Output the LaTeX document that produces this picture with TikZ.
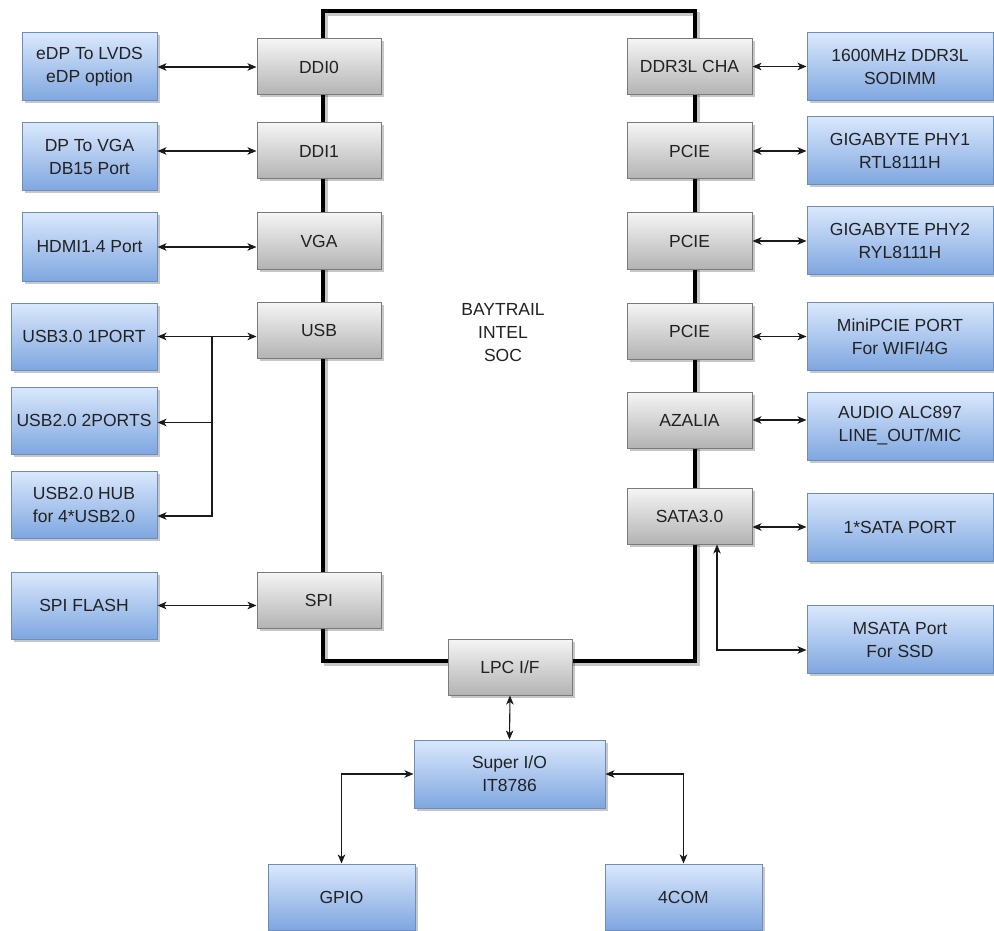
\documentclass[tikz,border=0pt]{standalone}
\usepackage{fontspec}
\setmainfont{Liberation Sans}
\usetikzlibrary{arrows.meta,shadows}
\definecolor{bTop}{HTML}{DAE8FC}
\definecolor{bBot}{HTML}{7EA6E0}
\definecolor{bLine}{HTML}{6C8EBF}
\definecolor{gTop}{HTML}{F5F5F5}
\definecolor{gBot}{HTML}{B3B3B3}
\definecolor{gLine}{HTML}{7A7A7A}
\definecolor{txt}{HTML}{222222}
\definecolor{arrc}{HTML}{1A1A1A}
\tikzset{
  boxbase/.style={draw, line width=1pt, inner sep=0pt, align=center, text=txt,
    font=\fontsize{17.5}{23}\selectfont,
    drop shadow={shadow xshift=2.5pt, shadow yshift=-2.5pt, opacity=0.22, fill=black}},
  graybox/.style={boxbase, draw=gLine, top color=gTop, bottom color=gBot,
    minimum width=124pt, minimum height=56pt},
  bluebox/.style={boxbase, draw=bLine, top color=bTop, bottom color=bBot},
  lbox/.style={bluebox, minimum width=135pt, minimum height=68pt},
  ubox/.style={bluebox, minimum width=146pt, minimum height=67pt},
  rbox/.style={bluebox, minimum width=186pt, minimum height=68pt},
  conn/.style={draw=arrc, line width=1.1pt},
  tipA/.tip={Stealth[length=9pt,width=7.5pt,inset=2.5pt]},
  both/.style={conn, tipA-tipA},
  fwd/.style={conn, -tipA},
}
\begin{document}
\begin{tikzpicture}[x=1pt,y=-1pt]
\useasboundingbox (0,0) rectangle (994,931);
\fill[white] (0,0) rectangle (994,931);
% SoC outline
\draw[line width=4pt, black!22] (326,14) rectangle (698,664);
\draw[line width=4pt, black] (323,11) rectangle (695,661);
\node[align=center, text=txt, font=\fontsize{17.5}{23}\selectfont] (soc) at (503,333) {BAYTRAIL\\INTEL\\SOC};
% gray internal blocks
\node[graybox] (ddi0) at (319,67) {DDI0};
\node[graybox] (ddi1) at (319,151) {DDI1};
\node[graybox] (vga) at (319,241) {VGA};
\node[graybox] (usb) at (319,330.5) {USB};
\node[graybox] (spi) at (319,600) {SPI};
\node[graybox, minimum width=125pt] (ddr) at (689.5,66.5) {DDR3L CHA};
\node[graybox, minimum width=125pt] (pcie1) at (689.5,151) {PCIE};
\node[graybox, minimum width=125pt] (pcie2) at (689.5,241) {PCIE};
\node[graybox, minimum width=125pt] (pcie3) at (689.5,331) {PCIE};
\node[graybox, minimum width=125pt] (azalia) at (689.5,420) {AZALIA};
\node[graybox, minimum width=125pt] (sata) at (689.5,516) {SATA3.0};
\node[graybox] (lpc) at (510,667) {LPC I/F};
% left blue
\node[lbox] (edp) at (89.5,67) {eDP To LVDS\\eDP option};
\node[lbox] (dpvga) at (89.5,157) {DP To VGA\\DB15 Port};
\node[lbox] (hdmi) at (89.5,247) {HDMI1.4 Port};
\node[ubox] (usb3) at (84,336.5) {USB3.0 1PORT};
\node[ubox] (usb2) at (84,420.5) {USB2.0 2PORTS};
\node[ubox] (hub) at (84,504.5) {USB2.0 HUB\\for 4*USB2.0};
\node[ubox] (spiflash) at (84,605.5) {SPI FLASH};
% right blue
\node[rbox] (ddrmod) at (900,67) {1600MHz DDR3L\\SODIMM};
\node[rbox] (phy1) at (900,150.5) {GIGABYTE PHY1\\RTL8111H};
\node[rbox] (phy2) at (900,240.5) {GIGABYTE PHY2\\RYL8111H};
\node[rbox] (minipcie) at (900,336.5) {MiniPCIE PORT\\For WIFI/4G};
\node[rbox] (audio) at (900,426) {AUDIO ALC897\\LINE\_OUT/MIC};
\node[rbox] (sataport) at (900,527) {1*SATA PORT};
\node[rbox] (msata) at (900,639.5) {MSATA Port\\For SSD};
% bottom blue
\node[bluebox, minimum width=191pt, minimum height=68pt] (superio) at (509.5,774) {Super I/O\\IT8786};
\node[bluebox, minimum width=147pt, minimum height=66pt] (gpio) at (341.5,897) {GPIO};
\node[bluebox, minimum width=157pt, minimum height=66pt] (com) at (683.5,897) {4COM};
% connectors left
\draw[both] (edp.east) -- (ddi0.west);
\draw[both] (ddi1.west -| dpvga.east) -- (ddi1.west);
\draw[both] (hdmi.east) -- (hdmi.east -| vga.west);
\draw[both] (usb3.east) -- (usb3.east -| usb.west);
\coordinate (usbj) at (212,336.5);
\draw[fwd] (usbj) |- ([yshift=-2pt]usb2.east);
\draw[fwd] (usbj) |- ([yshift=-11.5pt]hub.east);
\draw[both] (spiflash.east) -- (spiflash.east -| spi.west);
% connectors right
\draw[both] (ddr.east) -- (ddr.east -| ddrmod.west);
\draw[both] (pcie1.east) -- (pcie1.east -| phy1.west);
\draw[both] (pcie2.east) -- (pcie2.east -| phy2.west);
\draw[both] (minipcie.west -| pcie3.east) -- (minipcie.west);
\draw[both] (azalia.east) -- (azalia.east -| audio.west);
\draw[both] (sataport.west -| sata.east) -- (sataport.west);
\draw[both] ([xshift=27.5pt]sata.south) |- ([yshift=-10.5pt]msata.west);
% bottom connectors
\draw[both] (lpc.south) -- (superio.north);
\draw[both] (superio.west) -| (gpio.north);
\draw[both] (superio.east) -| (com.north);
\end{tikzpicture}
\end{document}
